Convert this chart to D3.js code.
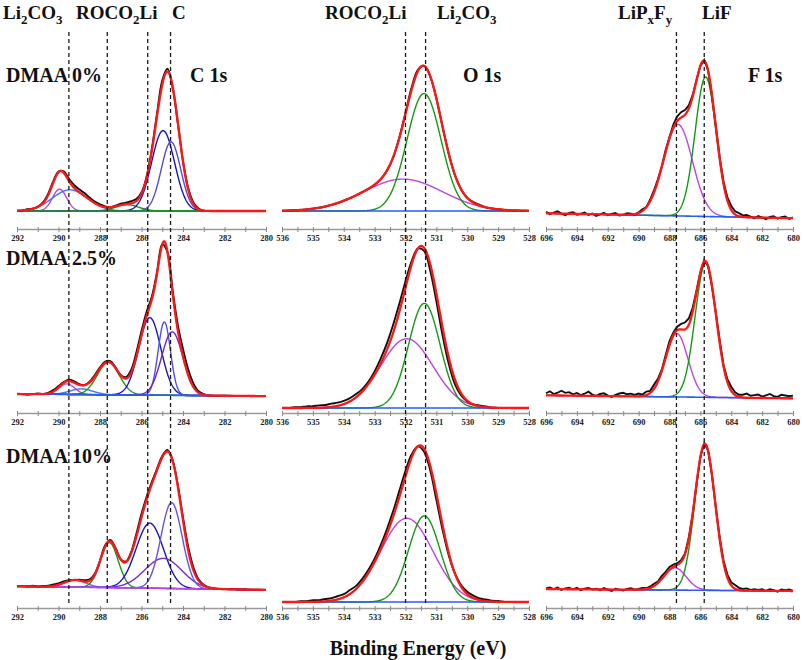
<!DOCTYPE html>
<html>
<head>
<meta charset="utf-8">
<script src="https://cdn.jsdelivr.net/npm/d3@7"></script>
<style>
  body { margin: 0; background: #fff; }
  svg { display: block; font-family: "Liberation Serif", "Times New Roman", serif; font-weight: bold; }
</style>
</head>
<body>
<svg id="chart" width="803" height="660"></svg>
<script>
// ---- data ----
const rowLabels = ["DMAA 0%", "DMAA 2.5%", "DMAA 10%"];
const coreLevels = ["C 1s", "O 1s", "F 1s"];

const cTickLabels = [292, 290, 288, 286, 284, 282, 280];
const oTickLabels = [536, 535, 534, 533, 532, 531, 530, 529, 528];
const fTickLabels = [696, 694, 692, 690, 688, 686, 684, 682, 680];

// dashed reference energies (eV) and their labels
const cRefLines = [289.5, 287.65, 285.7, 284.6];
const oRefLines = [532.0, 531.35];
const fRefLines = [687.55, 685.75];
const cRefNames = ["Li_2CO_3", "ROCO_2Li", "C"];
const oRefNames = ["ROCO_2Li", "Li_2CO_3"];
const fRefNames = ["LiP_xF_y", "LiF"];

// fitted components: [centre eV, FWHM eV, height] (height relative to envelope max)
const c1s0  = [[289.95, 0.8, 0.155], [289.45, 2.0, 0.15], [286.7, 1.3, 0.045], [284.96, 1.3, 0.57], [284.58, 1.1, 0.49]];
const c1s25 = [[289.6, 0.9, 0.075], [288.9, 1.3, 0.04], [287.6, 1.25, 0.23], [285.6, 1.25, 0.55], [284.9, 0.7, 0.52], [284.52, 1.2, 0.45]];
const c1s10 = [[289.2, 1.2, 0.05], [287.55, 1.0, 0.315], [285.6, 1.55, 0.455], [284.95, 2.1, 0.21], [284.55, 1.2, 0.60]];
const o1s0  = [[532.08, 3.0, 0.22], [531.4, 1.3, 0.81]];
const o1s25 = [[531.96, 2.0, 0.43], [531.39, 1.2, 0.65]];
const o1s10 = [[531.96, 2.0, 0.53], [531.39, 1.2, 0.545]];
const f1s0  = [[687.45, 2.2, 0.59], [685.66, 1.6, 0.90]];
const f1s25 = [[687.53, 1.7, 0.46], [685.66, 1.6, 0.97]];
const f1s10 = [[687.65, 1.7, 0.15], [685.7, 1.55, 0.98]];

// linear background [at high BE end, at low BE end]
const c1sBg = [[0, 0], [0, -0.015], [0.005, -0.02]];
const o1sBg = [[0, 0], [0, 0], [0, 0]];
const f1sBg = [[0.024, -0.008], [0.012, -0.01], [0.013, 0]];
const fBgStart = [690.9, 690.0, 690.2];

// measured minus fit, sampled evenly across each axis (C: 0.25 eV, O: 0.2 eV, F: 0.25 eV)
const cRes0 = [0, 0, 0.005, 0, 0, 0.005, 0.01, 0.01,
  0.005, 0.01, 0.015, 0.02, 0.02, 0.02, 0.015, 0.01,
  0.01, 0.005, 0, 0.005, 0.01, 0.01, 0.015, 0.015,
  0.01, 0.01, 0.015, 0.02, 0.03, 0.02, -0.01, -0.01,
  0, 0.01, 0.01, 0.005, 0, 0, 0, 0,
  0, 0, 0, 0, 0, 0, 0, 0, 0];
const cRes25 = [0, 0, -0.005, 0, 0.005, 0, 0.005, 0.01,
  0.01, 0.005, 0.01, 0.01, 0.005, 0, 0.005, 0.01,
  0.01, 0.01, 0.01, 0.005, 0, 0.01, 0.02, 0.03,
  0.03, 0.03, 0.02, 0.01, 0, 0, 0.02, 0.04,
  0.05, 0.04, 0.025, 0.01, 0.005, 0, 0, 0,
  0, 0, 0, 0, 0, 0, 0, 0, 0];
const cRes10 = [0, 0, 0, 0.005, 0, 0.005, 0.005, 0.01,
  0.01, 0.01, 0.005, 0, 0.005, 0.01, 0.01, 0.005,
  0.005, 0.01, 0.01, 0.005, 0, 0.005, 0.01, 0.02,
  0.025, 0.02, 0.015, 0.01, 0.01, 0.01, 0, 0.01,
  0.02, 0.025, 0.02, 0.01, 0.005, 0, 0, 0,
  0, 0, 0, 0, 0, 0, 0, 0, 0];
const oRes0 = [0, 0, 0, 0, 0, 0, 0, 0, 0, 0,
  0, 0, 0, 0, 0, 0, 0, 0, 0, 0.005,
  0.01, 0.015, 0.01, 0, -0.005, 0, 0, 0, 0, 0,
  0, 0.005, 0.005, 0, 0, 0, 0, 0, 0, 0, 0];
const oRes25 = [0, 0, 0.005, 0.005, 0.01, 0.01, 0.015, 0.015, 0.02, 0.02,
  0.02, 0.02, 0.02, 0.015, 0.015, 0.02, 0.03, 0.04, 0.05, 0.05,
  0.04, 0.02, 0, -0.02, -0.04, -0.05, -0.05, -0.04, -0.03, -0.015,
  -0.005, 0, 0.005, 0.005, 0, 0, 0, 0, 0, 0, 0];
const oRes10 = [0, 0, 0, 0.005, 0.005, 0.01, 0.01, 0.015, 0.015, 0.02,
  0.02, 0.025, 0.02, 0.02, 0.02, 0.02, 0.025, 0.03, 0.035, 0.04,
  0.035, 0.02, 0, -0.02, -0.03, -0.04, -0.03, -0.015, 0, 0.01,
  0.015, 0.015, 0.01, 0.01, 0.005, 0.005, 0, 0, 0, 0, 0];
const fRes0 = [0.01, -0.005, 0.005, 0.015, 0, -0.01, 0.005, 0.01,
  -0.005, 0, 0.01, -0.005, 0.005, -0.01, 0, 0.01,
  -0.005, 0.005, 0.01, -0.005, 0, 0.01, 0.005, -0.005,
  0.005, 0.01, 0, 0.01, 0.015, 0.01, 0.005, 0.015,
  0.01, 0.02, 0.03, 0.035, 0.03, 0.02, 0.01, 0.005,
  0, 0.005, 0, -0.01, 0.005, 0.01, 0.015, 0.02,
  0.025, 0.02, 0.02, 0.01, 0.015, 0.005, -0.005, 0.01,
  0, -0.01, 0.005, 0.01, -0.005, 0.005, 0.01, -0.005, 0.005];
const fRes25 = [0.015, 0.03, 0.01, 0.02, 0.035, 0.02, 0.025, 0.01,
  0.02, 0.005, 0.015, 0.03, 0.01, 0, 0.015, 0.02,
  0.005, -0.005, 0.01, 0.02, 0.025, 0.015, 0.02, 0.01,
  0.02, 0.01, 0.025, 0.015, 0.03, 0.02, 0.01, 0.02,
  0.03, 0.02, 0.025, 0.04, 0.05, 0.045, 0.03, 0.01,
  0, 0.01, 0, -0.01, 0.01, 0.02, 0.01, 0.02,
  0.03, 0.02, 0.015, 0.02, 0.03, 0.015, 0.02, 0.025,
  0.01, 0.02, 0.03, 0.015, 0.01, 0.025, 0.02, 0.015, 0.02];
const fRes10 = [0.005, 0.01, 0, 0.01, -0.005, 0.005, 0.01, 0,
  0.01, -0.005, 0.005, 0.01, 0, 0.005, -0.005, 0.01,
  0, -0.01, 0.005, 0, -0.005, 0.005, 0.01, 0,
  0.005, 0.01, 0.005, 0.01, 0.015, 0.01, 0.02, 0.015,
  0.02, 0.015, 0.01, 0.01, 0.005, 0.01, 0, 0,
  0, 0.005, 0, -0.005, 0, 0.01, 0.015, 0.02,
  0.02, 0.025, 0.015, 0.01, 0.015, 0.005, 0.01, 0.005,
  0.01, 0, 0.01, 0.005, -0.005, 0.01, 0.005, 0.01, 0];

// ---- styles and layout ----
const MAG = "#bd43e8", LBLUE = "#3a78f5", GRN = "#139a13", DBLUE = "#1515c8", BGBLUE = "#2a5cf0";
const cColors = [
  [MAG, LBLUE, GRN, DBLUE, "#5a48e0"],
  [MAG, LBLUE, GRN, DBLUE, "#5050f0", "#6a24d0"],
  [MAG, GRN, DBLUE, "#7a2ad0", "#6650e8"]
];
const ofColors = [MAG, GRN];

const axisY = [229, 413, 608];
const columns = [
  { domain: [292, 280], range: [17, 266], labels: cTickLabels, step: 1,
    peaks: [c1s0, c1s25, c1s10], colors: cColors, bg: c1sBg, bgFrom: [292, 292, 292],
    bgColor: [GRN, BGBLUE, MAG], res: [cRes0, cRes25, cRes10],
    base: [211, 394, 587], top: [70, 253, 444], smooth: true },
  { domain: [536, 528], range: [282, 529], labels: oTickLabels, step: 0.5,
    peaks: [o1s0, o1s25, o1s10], colors: [ofColors, ofColors, ofColors], bg: o1sBg, bgFrom: [536, 536, 535],
    bgColor: [BGBLUE, BGBLUE, BGBLUE], res: [oRes0, oRes25, oRes10],
    base: [211, 408, 602], top: [66, 247, 444], smooth: true },
  { domain: [696, 680], range: [546, 793], labels: fTickLabels, step: 1,
    peaks: [f1s0, f1s25, f1s10], colors: [ofColors, ofColors, ofColors], bg: f1sBg, bgFrom: fBgStart,
    bgColor: [BGBLUE, BGBLUE, BGBLUE], res: [fRes0, fRes25, fRes10],
    base: [217, 397, 591], top: [62, 259, 442], smooth: false }
];
const refSets = [
  { lines: cRefLines, names: cRefNames, nameX: [3, 76, 172] },
  { lines: oRefLines, names: oRefNames, nameX: [325, 437] },
  { lines: fRefLines, names: fRefNames, nameX: [618, 702] }
];
const titleX = [190, 463, 748];
const rowLabelY = [82, 265, 463];

const svg = d3.select("#chart");

function gauss(e, p) {
  return p[2] * Math.exp(-4 * Math.LN2 * (e - p[0]) * (e - p[0]) / (p[1] * p[1]));
}

// text with "_x" subscripts
function richText(parent, x, y, str, size) {
  const t = parent.append("text").attr("x", x).attr("y", y).attr("font-size", size).attr("fill", "#111");
  let low = false;
  str.split(/(_.)/).filter(s => s.length).forEach(part => {
    if (part[0] === "_") {
      t.append("tspan").attr("dy", low ? 0 : size * 0.24).attr("font-size", size * 0.68).text(part[1]);
      low = true;
    } else {
      t.append("tspan").attr("dy", low ? -size * 0.24 : 0).text(part);
      low = false;
    }
  });
  return t;
}

columns.forEach((col, ci) => {
  const x = d3.scaleLinear().domain(col.domain).range(col.range);
  const [e0, e1] = col.domain;
  const fine = d3.range(0, 601).map(i => e0 + (e1 - e0) * i / 600);

  for (let r = 0; r < 3; r++) {
    const y = d3.scaleLinear().domain([0, 1]).range([col.base[r], col.top[r]]);
    const peaks = col.peaks[r];
    const [bl, br] = col.bg[r];
    const bgAt = e => bl + (br - bl) * (e0 - e) / (e0 - e1);
    const fit = e => bgAt(e) + d3.sum(peaks, p => gauss(e, p));
    const line = d3.line().x(d => x(d[0])).y(d => y(d[1]));
    const g = svg.append("g");

    // components
    peaks.forEach((p, k) => {
      g.append("path")
        .attr("d", line(fine.map(e => [e, bgAt(e) + gauss(e, p)])))
        .attr("fill", "none").attr("stroke", col.colors[r][k]).attr("stroke-width", 1.4);
    });

    // background
    const bgPts = fine.filter(e => e <= col.bgFrom[r]).map(e => [e, bgAt(e)]);
    g.append("path").attr("d", line(bgPts))
      .attr("fill", "none").attr("stroke", col.bgColor[r]).attr("stroke-width", 1.6);

    // measured spectrum
    const res = col.res[r];
    const meas = res.map((v, i) => {
      const e = e0 + (e1 - e0) * i / (res.length - 1);
      return [e, fit(e) + v];
    });
    g.append("path")
      .attr("d", line.curve(col.smooth ? d3.curveCatmullRom : d3.curveLinear)(meas))
      .attr("fill", "none").attr("stroke", "#111").attr("stroke-width", 1.9);

    // fit envelope
    g.append("path")
      .attr("d", d3.line().x(d => x(d[0])).y(d => y(d[1]))(fine.map(e => [e, fit(e)])))
      .attr("fill", "none").attr("stroke", "#ff1616").attr("stroke-width", 2.3);

    // axis
    const n = Math.round((e0 - e1) / col.step);
    const ticks = d3.range(0, n + 1).map(i => e1 + i * col.step);
    const labelSet = new Set(col.labels);
    const ax = svg.append("g").attr("transform", `translate(0,${axisY[r]})`)
      .call(d3.axisBottom(x).tickValues(ticks).tickSizeInner(3).tickSizeOuter(0).tickPadding(3)
        .tickFormat(d => labelSet.has(d) ? d : ""));
    ax.select(".domain").attr("stroke", "#9a9a9a").attr("stroke-width", 1.3);
    ax.selectAll(".tick line").attr("stroke", "#8a8a8a").attr("y1", -2);
    ax.selectAll(".tick text").attr("font-family", "Liberation Serif, Times New Roman, serif")
      .attr("font-weight", "bold").attr("font-size", 8.5).attr("fill", "#222");
  }

  // dashed reference lines and their names
  const refs = refSets[ci];
  svg.append("g").selectAll("line").data(refs.lines).join("line")
    .attr("x1", d => x(d)).attr("x2", d => x(d))
    .attr("y1", 32).attr("y2", 606)
    .attr("stroke", "#1a1a1a").attr("stroke-width", 1.3).attr("stroke-dasharray", "4,3");
  refs.names.forEach((nm, k) => richText(svg, refs.nameX[k], 19, nm, 19));

  svg.append("text").attr("x", titleX[ci]).attr("y", 82).attr("font-size", 20).attr("fill", "#111")
    .text(coreLevels[ci]);
});

rowLabels.forEach((t, r) => {
  svg.append("text").attr("x", 6).attr("y", rowLabelY[r]).attr("font-size", 20).attr("fill", "#111").text(t);
});

svg.append("text").attr("x", 418).attr("y", 655).attr("text-anchor", "middle")
  .attr("font-size", 20).attr("fill", "#111").text("Binding Energy (eV)");
</script>
</body>
</html>
